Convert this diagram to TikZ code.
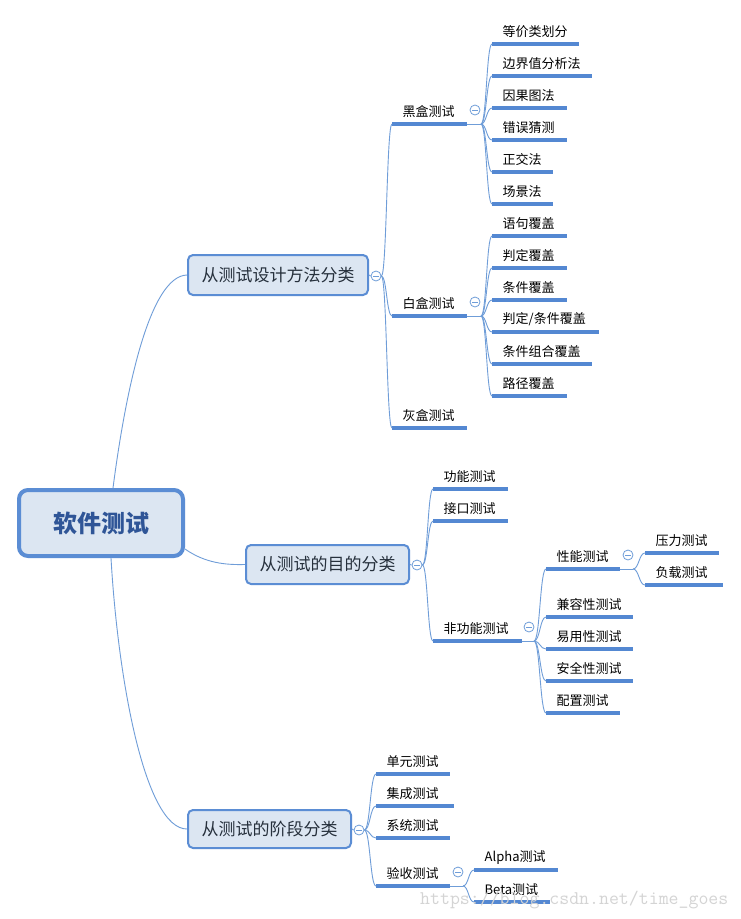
\documentclass[tikz,border=0pt]{standalone}
\usepackage{fontspec}
\setmainfont{Noto Sans CJK SC}
\usetikzlibrary{calc}
\definecolor{ublue}{HTML}{5488D2}
\definecolor{cblue}{HTML}{6F9DD8}
\definecolor{boxfill}{HTML}{DCE6F2}
\definecolor{boxline}{HTML}{5B8DD4}
\definecolor{roottext}{HTML}{2F5597}
\definecolor{boxtext}{HTML}{26303C}
\definecolor{wmark}{HTML}{D4D4D4}
\newcommand{\mmleaf}[5]{%
  \coordinate (#1-l) at (#2,#4);
  \coordinate (#1-r) at (#3,#4);
  \node[leaftext] (#1) at ({#2+10.5},{#4-12.5}) {#5};
  \draw[ubar] (#1-l) -- (#1-r);
}
\newcommand{\mmlink}[2]{%
  \draw[conn] let \p1=(#1), \p2=(#2) in (\p1) .. controls ({0.5*\x1+0.5*\x2},\y1) and ({0.5*\x1+0.5*\x2},\y2) .. (\p2);
}
\newcommand{\mmjunc}[4]{% name, x junction, y, circle x
  \coordinate (#1-j) at (#2,#3);
  \draw[conn] (#1-r) -- (#1-j);
  \node[collapse] (#1-c) at (#4,{#3-14}) {};
}
\begin{document}
\begin{tikzpicture}[x=1pt,y=-1pt,
  ubar/.style={draw=ublue, line width=3.2pt},
  conn/.style={draw=cblue, line width=0.9pt},
  leaftext/.style={anchor=west, inner sep=0pt, font=\fontsize{13}{15}\selectfont, text=black},
  l1box/.style={draw=boxline, fill=boxfill, line width=2pt, rounded corners=5pt, inner sep=0pt, font=\fontsize{17}{20}\selectfont, text=boxtext},
  collapse/.style={circle, draw=cblue, fill=white, line width=0.8pt, minimum size=10pt, inner sep=0pt,
    path picture={\draw[cblue, line width=0.8pt] ([xshift=-2.6pt]path picture bounding box.center) -- ([xshift=2.6pt]path picture bounding box.center);}},
]
\useasboundingbox (0,0) rectangle (741,919);
\fill[white] (0,0) rectangle (741,919);

% root and first level
\node[draw=boxline, fill=boxfill, line width=4pt, rounded corners=9pt, minimum width=164pt, minimum height=66pt,
  font=\fontsize{24}{28}\selectfont\bfseries, text=roottext] (root) at (101,523) {软件测试};
\node[l1box, minimum width=180pt, minimum height=40pt] (b1) at (278,275) {从测试设计方法分类};
\node[l1box, minimum width=163pt, minimum height=39pt] (b2) at (327.5,564.5) {从测试的目的分类};
\node[l1box, minimum width=163pt, minimum height=38pt] (b3) at (269.5,829) {从测试的阶段分类};

\draw[conn] ([xshift=12pt]root.north) .. controls (126,388) and (150,276) .. (b1.west);
\draw[conn] ([xshift=10pt]root.south) .. controls (118,680) and (145,829) .. (b3.west);
\draw[conn] ([yshift=-26pt]root.east) .. controls (205,563) and (225,565) .. (b2.west);

\node[collapse] (c1) at (376,276) {};
\node[collapse] (c2) at (417,565) {};
\node[collapse] (c3) at (359,830) {};
\draw[conn] (b1.east) -- (c1.west);
\draw[conn] (b2.east) -- (c2.west);
\draw[conn] (b3.east) -- (c3.west);

% ---- branch 1
\mmleaf{hei}{392}{467}{124}{黑盒测试}
\mmleaf{bai}{392}{467}{316}{白盒测试}
\mmleaf{hui}{392}{467}{428}{灰盒测试}
\mmlink{c1.east}{hei-l}
\mmlink{c1.east}{bai-l}
\mmlink{c1.east}{hui-l}

\mmjunc{hei}{481}{124}{475}
\mmleaf{dj}{492}{579}{44}{等价类划分}
\mmleaf{bj}{492}{592}{76}{边界值分析法}
\mmleaf{yg}{492}{567}{108}{因果图法}
\mmleaf{cw}{492}{567}{140}{错误猜测}
\mmleaf{zj}{492}{553}{172}{正交法}
\mmleaf{cj}{492}{553}{204}{场景法}
\foreach \q in {dj,bj,yg,cw,zj,cj} {\mmlink{hei-j}{\q-l}}

\mmjunc{bai}{481}{316}{475}
\mmleaf{yj}{492}{567}{236}{语句覆盖}
\mmleaf{pd}{492}{567}{268}{判定覆盖}
\mmleaf{tj}{492}{567}{300}{条件覆盖}
\mmleaf{pt}{492}{599}{332}{判定/条件覆盖}
\mmleaf{zh}{492}{592}{364}{条件组合覆盖}
\mmleaf{lj}{492}{567}{396}{路径覆盖}
\foreach \q in {yj,pd,tj,pt,zh,lj} {\mmlink{bai-j}{\q-l}}

% ---- branch 2
\mmleaf{gn}{433}{508}{489}{功能测试}
\mmleaf{jk}{433}{508}{521}{接口测试}
\mmleaf{fgn}{433}{522}{641}{非功能测试}
\foreach \q in {gn,jk,fgn} {\mmlink{c2.east}{\q-l}}

\mmjunc{fgn}{534}{641}{529}
\mmleaf{xn}{546}{620}{569}{性能测试}
\mmleaf{jr}{546}{633}{617}{兼容性测试}
\mmleaf{yy}{546}{633}{649}{易用性测试}
\mmleaf{aq}{546}{633}{681}{安全性测试}
\mmleaf{pz}{546}{620}{713}{配置测试}
\foreach \q in {xn,jr,yy,aq,pz} {\mmlink{fgn-j}{\q-l}}

\mmjunc{xn}{633}{569}{628}
\mmleaf{yl}{645}{719}{553}{压力测试}
\mmleaf{fz}{645}{723}{585}{负载测试}
\foreach \q in {yl,fz} {\mmlink{xn-j}{\q-l}}

% ---- branch 3
\mmleaf{dy}{376}{450}{774}{单元测试}
\mmleaf{jc}{376}{454}{806}{集成测试}
\mmleaf{xt}{376}{450}{838}{系统测试}
\mmleaf{ys}{376}{450}{886}{验收测试}
\foreach \q in {dy,jc,xt,ys} {\mmlink{c3.east}{\q-l}}

\mmjunc{ys}{463}{886}{458}
\mmleaf{al}{474}{558}{870}{Alpha测试}
\mmleaf{be}{474}{550}{902}{Beta测试}
\foreach \q in {al,be} {\mmlink{ys-j}{\q-l}}

% watermark
\node[anchor=west, inner sep=0pt, font=\ttfamily\fontsize{19.3}{20}\selectfont, text=wmark] (wm) at (420,900) {https://blog.csdn.net/time\_goes};
\end{tikzpicture}
\end{document}
